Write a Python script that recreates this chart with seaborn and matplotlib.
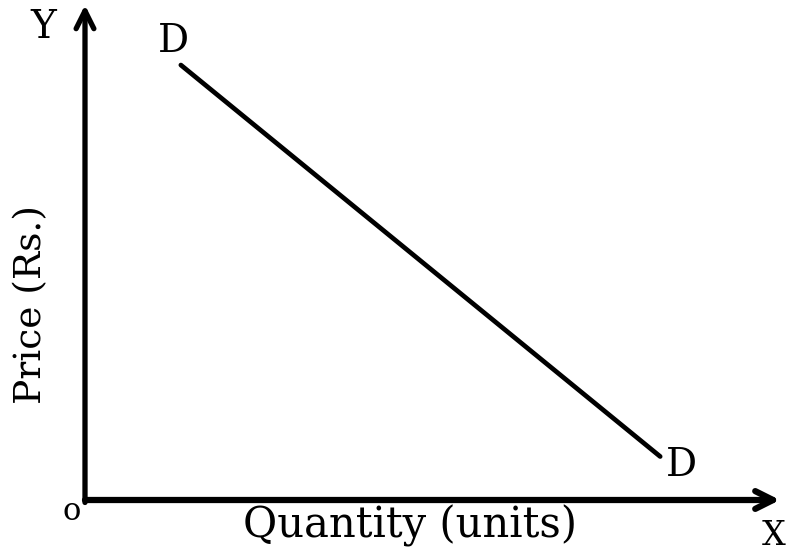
import matplotlib
matplotlib.use("Agg")
import matplotlib.pyplot as plt
import seaborn as sns
import pandas as pd

quantity = [1, 6]
price = [10, 1]
curve_labels = ["D", "D"]
x_label = "Quantity (units)"
y_label = "Price (Rs.)"

sns.set_style("white")
plt.rcParams['font.family'] = ['DejaVu Serif']

W, H = 788, 551
fig = plt.figure(figsize=(W / 100, H / 100), dpi=100)
ox, oy = 85, 500
ax = fig.add_axes([ox / W, (H - oy) / H, (780 - ox) / W, (oy - 5) / H])
ax.set_xlim(0, 7.25)
ax.set_ylim(0, 11.38)
ax.axis("off")

df = pd.DataFrame({"q": quantity, "p": price})
sns.lineplot(data=df, x="q", y="p", ax=ax, color="black", linewidth=3.4)

# axes with arrows
ax.annotate("", xy=(0, 1.0), xytext=(0, -0.005), xycoords="axes fraction",
            arrowprops=dict(arrowstyle="->", lw=3.8, color="black",
                            mutation_scale=32, shrinkA=0, shrinkB=0))
ax.annotate("", xy=(1.0, 0), xytext=(0, 0), xycoords="axes fraction",
            arrowprops=dict(arrowstyle="->", lw=4.5, color="black",
                            mutation_scale=32, shrinkA=0, shrinkB=0))

def px(x, y):
    return x / W, 1 - y / H

fig.text(*px(43, 28), "Y", fontsize=28, color="black", ha="center", va="center")
fig.text(*px(173, 41), curve_labels[0], fontsize=28, color="black", ha="center", va="center")
fig.text(*px(681, 466), curve_labels[1], fontsize=28, color="black", ha="center", va="center")
fig.text(*px(72, 512), "o", fontsize=22, color="black", ha="center", va="center")
fig.text(*px(774, 536), "X", fontsize=24, color="black", ha="center", va="center")
fig.text(*px(410, 526), x_label, fontsize=30, color="black", ha="center", va="center")
fig.text(*px(31, 304), y_label, fontsize=27, color="black", ha="center", va="center", rotation=90)

fig.savefig("out.png", dpi=100)
